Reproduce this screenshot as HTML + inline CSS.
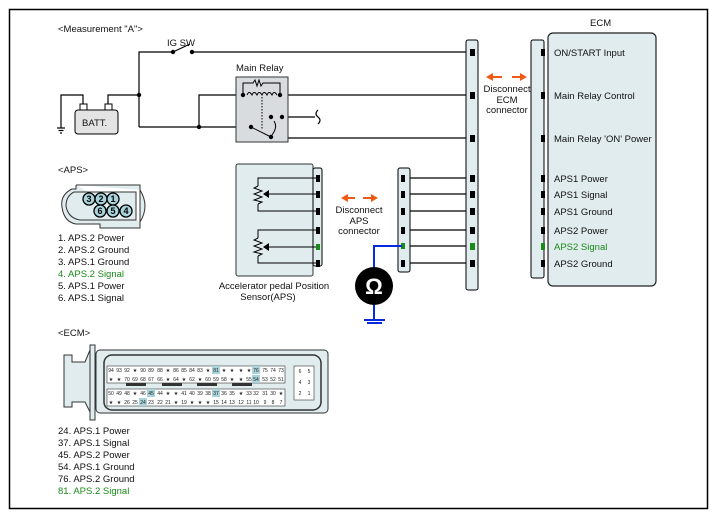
<!DOCTYPE html>
<html><head><meta charset="utf-8"><style>
html,body{margin:0;padding:0;background:#fff;}
svg{display:block;font-family:"Liberation Sans",Arial,sans-serif;}
.t{font-size:9.5px;fill:#111;}
.g{fill:#1a8a1a;}
.p{font-size:5px;fill:#222;text-anchor:middle;}
</style></head><body>
<svg width="717" height="518" viewBox="0 0 717 518" xmlns="http://www.w3.org/2000/svg">
<rect x="9.5" y="9.5" width="698" height="499" fill="#fff" stroke="#000" stroke-width="1.5"/>
<text class="t" x="58" y="32">&lt;Measurement "A"&gt;</text>
<text class="t" x="167" y="46">IG SW</text>
<text class="t" x="236" y="71">Main Relay</text>

<!-- wires -->
<g stroke="#000" stroke-width="1.2" fill="none">
<polyline points="139,127 139,52 173,52"/>
<line x1="173" y1="52" x2="190" y2="44"/>
<line x1="192" y1="52" x2="472" y2="52"/>
<polyline points="108,105 108,95 139,95"/>
<polyline points="83,105 83,95 61,95 61,128"/>
<line x1="57" y1="128" x2="65" y2="128"/><line x1="58.5" y1="130.5" x2="63.5" y2="130.5"/><line x1="60" y1="133" x2="62" y2="133"/>
<polyline points="139,127 251,127"/>
<polyline points="199,127 199,95 243,95"/>
<line x1="280" y1="95" x2="472" y2="95"/>
<polyline points="282,117 282,138 472,138"/>
<line x1="271" y1="117" x2="315" y2="117"/>
<path d="M318,110 q-4,4 0,7 q4,3 0,7"/>
<line x1="403" y1="178" x2="472" y2="178"/>
<line x1="403" y1="194" x2="472" y2="194"/>
<line x1="403" y1="211" x2="472" y2="211"/>
<line x1="403" y1="230" x2="472" y2="230"/>
<line x1="410" y1="246" x2="472" y2="246"/>
<line x1="403" y1="263" x2="472" y2="263"/>
</g>
<circle cx="173" cy="52" r="2.2"/><circle cx="192" cy="52" r="2.2"/>
<circle cx="139" cy="95" r="2.2"/><circle cx="199" cy="127" r="2.2"/>

<!-- battery -->
<rect x="80" y="104" width="7" height="6" fill="#fff" stroke="#000"/>
<rect x="105" y="104" width="7" height="6" fill="#fff" stroke="#000"/>
<rect x="75" y="110" width="43" height="24" rx="3" fill="#e4e4e4" stroke="#000"/>
<text class="t" x="82" y="126">BATT.</text>

<!-- relay -->
<rect x="236" y="77" width="52" height="65" fill="#d9dcdf" stroke="#333"/>
<g stroke="#000" fill="none" stroke-width="1">
<polyline points="243,95 243,83 253,83 255,80 257,86 259,80 261,86 263,83 280,83 280,95"/>
<path d="M247,95 q2,-5 5,0 q2,-5 5,0 q2,-5 5,0 q2,-5 5,0 q2,-5 5,0 q2,-5 5,0"/>
<line x1="262" y1="97" x2="262" y2="130" stroke-dasharray="1.5,1.5"/>
<line x1="251" y1="127" x2="271" y2="137"/>
<path d="M274,121 q4,6 -2,14"/>
</g>
<circle cx="243" cy="95" r="2.2"/><circle cx="280" cy="95" r="2.2"/>
<circle cx="251" cy="127" r="2.2"/><circle cx="271" cy="137" r="2.2"/>
<circle cx="271" cy="117" r="2.2"/><circle cx="282" cy="117" r="2.2"/>

<!-- ECM side connectors -->
<rect x="466" y="40" width="12" height="250" rx="2" fill="#e1ecee" stroke="#000"/>
<rect x="531" y="40" width="13" height="238" rx="2" fill="#e1ecee" stroke="#000"/>
<rect x="548" y="33" width="108" height="253" rx="5" fill="#e1ecee" stroke="#222" stroke-width="1.2"/>
<text class="t" x="590" y="26">ECM</text>
<g>
<rect x="470" y="49" width="5" height="7"/><rect x="470" y="92" width="5" height="7"/><rect x="470" y="135" width="5" height="7"/>
<rect x="470" y="175" width="5" height="7"/><rect x="470" y="191" width="5" height="7"/><rect x="470" y="208" width="5" height="7"/>
<rect x="470" y="227" width="5" height="7"/><rect x="470" y="243" width="5" height="7" fill="#1a8a1a"/><rect x="470" y="260" width="5" height="7"/>
<rect x="541" y="49" width="4" height="7"/><rect x="541" y="92" width="4" height="7"/><rect x="541" y="135" width="4" height="7"/>
<rect x="541" y="175" width="4" height="7"/><rect x="541" y="191" width="4" height="7"/><rect x="541" y="208" width="4" height="7"/>
<rect x="541" y="227" width="4" height="7"/><rect x="541" y="243" width="4" height="7" fill="#1a8a1a"/><rect x="541" y="260" width="4" height="7"/>
</g>
<g class="t">
<text x="554" y="56">ON/START Input</text>
<text x="554" y="99">Main Relay Control</text>
<text x="554" y="142">Main Relay 'ON' Power</text>
<text x="554" y="182">APS1 Power</text>
<text x="554" y="198">APS1 Signal</text>
<text x="554" y="215">APS1 Ground</text>
<text x="554" y="234">APS2 Power</text>
<text x="554" y="250" class="t g">APS2 Signal</text>
<text x="554" y="267">APS2 Ground</text>
</g>
<g stroke="#f05a14" stroke-width="2" fill="#f05a14">
<line x1="491" y1="77" x2="502" y2="77"/><polygon points="486,77 493,73 493,81" stroke="none"/>
<line x1="512" y1="77" x2="522" y2="77"/><polygon points="527,77 520,73 520,81" stroke="none"/>
</g>
<g class="t" text-anchor="middle"><text x="507" y="92">Disconnect</text><text x="507" y="103">ECM</text><text x="507" y="113">connector</text></g>

<!-- APS sensor -->
<rect x="236" y="164" width="77" height="112" rx="2" fill="#e1ecee" stroke="#333"/>
<rect x="313" y="168" width="9" height="98" rx="2" fill="#e1ecee" stroke="#000"/>
<g stroke="#000" fill="none" stroke-width="1">
<polyline points="316,178 258,178 258,186"/><polyline points="258,204 258,211 316,211"/>
<polyline points="258,186 254,188 262,191 254,194 262,197 254,200 262,202 258,204"/>
<line x1="316" y1="194" x2="266" y2="194"/>
<polyline points="316,230 258,230 258,238"/><polyline points="258,256 258,263 316,263"/>
<polyline points="258,238 254,240 262,243 254,246 262,249 254,252 262,254 258,256"/>
<line x1="316" y1="247" x2="266" y2="247"/>
</g>
<polygon points="263,194 269,190 269,198"/><polygon points="263,247 269,243 269,251"/>
<g>
<rect x="316" y="175" width="4" height="7"/><rect x="316" y="191" width="4" height="7"/><rect x="316" y="208" width="4" height="7"/>
<rect x="316" y="227" width="4" height="7"/><rect x="316" y="244" width="4" height="6" fill="#1a8a1a"/><rect x="316" y="260" width="4" height="7"/>
</g>
<g class="t" text-anchor="middle"><text x="274" y="289">Accelerator pedal Position</text><text x="268" y="300">Sensor(APS)</text></g>

<!-- middle connector -->
<rect x="398" y="168" width="12" height="104" rx="2" fill="#e1ecee" stroke="#000"/>
<g>
<rect x="401" y="175" width="4" height="7"/><rect x="401" y="191" width="4" height="7"/><rect x="401" y="208" width="4" height="7"/>
<rect x="401" y="227" width="4" height="7"/><rect x="401" y="243" width="4" height="6" fill="#1a8a1a"/><rect x="401" y="260" width="4" height="7"/>
</g>
<g stroke="#f05a14" stroke-width="2" fill="#f05a14">
<line x1="346" y1="198" x2="355" y2="198"/><polygon points="341,198 348,194 348,202" stroke="none"/>
<line x1="363" y1="198" x2="373" y2="198"/><polygon points="378,198 371,194 371,202" stroke="none"/>
</g>
<g class="t" text-anchor="middle"><text x="359" y="213">Disconnect</text><text x="359" y="224">APS</text><text x="359" y="234">connector</text></g>

<!-- ohmmeter -->
<g stroke="#0a28dc" stroke-width="2" fill="none">
<polyline points="402,246 374,246 374,268"/><line x1="374" y1="304" x2="374" y2="320"/>
<line x1="364" y1="320" x2="385" y2="320"/><line x1="367" y1="323" x2="382" y2="323"/>
</g>
<circle cx="374" cy="286" r="19" fill="#000"/>
<text x="374" y="294" text-anchor="middle" font-size="22" font-weight="bold" fill="#fff">Ω</text>

<!-- APS connector -->
<text class="t" x="58" y="173">&lt;APS&gt;</text>
<path d="M76,185 H140 V222 Q150,206 140,190 M76,185 V189 H72 Q60,195 62,207 Q64,222 76,224 H100 V228 H140 V222" fill="#e1ecee" stroke="#333"/>
<path d="M74,192 H136 V220 H80 Q68,218 66,206 Q66,196 74,192Z" fill="#e1ecee" stroke="#333"/>
<g fill="#a9d4dc" stroke="#000" stroke-width="1.3">
<circle cx="89" cy="199" r="6"/><circle cx="101" cy="199" r="6"/><circle cx="113" cy="199" r="6"/>
<circle cx="100" cy="211" r="6"/><circle cx="113" cy="211" r="6"/><circle cx="126" cy="211" r="6"/>
</g>
<g font-size="9" font-weight="bold" text-anchor="middle">
<text x="89" y="202">3</text><text x="101" y="202">2</text><text x="113" y="202">1</text>
<text x="100" y="214">6</text><text x="113" y="214">5</text><text x="126" y="214">4</text>
</g>
<g class="t">
<text x="58" y="241">1. APS.2 Power</text><text x="58" y="253">2. APS.2 Ground</text><text x="58" y="265">3. APS.1 Ground</text>
<text x="58" y="277" class="t g">4. APS.2 Signal</text><text x="58" y="289">5. APS.1 Power</text><text x="58" y="301">6. APS.1 Signal</text>
</g>

<!-- ECM connector -->
<text class="t" x="58" y="336">&lt;ECM&gt;</text>
<path d="M64,355 H72 V362 H85 L90,350 V412 L85,402 H72 V407 H64Z" fill="#e1ecee" stroke="#333"/>
<rect x="90" y="345" width="5" height="75" fill="#e1ecee" stroke="#333"/>
<rect x="96" y="350" width="232" height="63" rx="4" fill="#e1ecee" stroke="#333"/>
<rect x="104" y="355" width="217" height="55" rx="8" fill="none" stroke="#333" stroke-width="1.5"/>
<rect x="107" y="366" width="178" height="17" fill="#fff" stroke="#333" stroke-width=".6"/>
<rect x="107" y="389" width="178" height="17" fill="#fff" stroke="#333" stroke-width=".6"/>
<g fill="#a9d4dc"><rect x="212" y="366" width="8" height="8"/><rect x="252" y="366" width="8" height="8"/><rect x="252" y="375" width="8" height="8"/><rect x="147" y="389" width="8" height="8"/><rect x="212" y="389" width="8" height="8"/><rect x="139" y="398" width="8" height="8"/></g>
<g fill="#333"><rect x="126" y="383" width="20" height="3"/><rect x="162" y="383" width="20" height="3"/><rect x="197" y="383" width="20" height="3"/><rect x="232" y="383" width="20" height="3"/></g>
<rect x="294" y="366" width="20" height="34" fill="#fff" stroke="#333" stroke-width=".6"/>
<g class="p">
<text x="300" y="373">6</text><text x="309" y="373">5</text><text x="300" y="384">4</text><text x="309" y="384">3</text><text x="300" y="395">2</text><text x="309" y="395">1</text>
</g>
<g class="p">
<text y="372"><tspan x="111">94</tspan><tspan x="119">93</tspan><tspan x="127">92</tspan><tspan x="135">★</tspan><tspan x="143">90</tspan><tspan x="151">89</tspan><tspan x="160">88</tspan><tspan x="168">★</tspan><tspan x="176">86</tspan><tspan x="184">85</tspan><tspan x="192">84</tspan><tspan x="200">83</tspan><tspan x="208">★</tspan><tspan x="216">81</tspan><tspan x="224">★</tspan><tspan x="232">★</tspan><tspan x="241">★</tspan><tspan x="249">★</tspan><tspan x="256">76</tspan><tspan x="265">75</tspan><tspan x="273">74</tspan><tspan x="281">73</tspan></text>
<text y="381"><tspan x="111">★</tspan><tspan x="119">★</tspan><tspan x="127">70</tspan><tspan x="135">69</tspan><tspan x="143">68</tspan><tspan x="151">67</tspan><tspan x="160">66</tspan><tspan x="168">★</tspan><tspan x="176">64</tspan><tspan x="184">★</tspan><tspan x="192">62</tspan><tspan x="200">★</tspan><tspan x="208">60</tspan><tspan x="216">59</tspan><tspan x="224">58</tspan><tspan x="232">★</tspan><tspan x="241">★</tspan><tspan x="249">55</tspan><tspan x="256">54</tspan><tspan x="265">53</tspan><tspan x="273">52</tspan><tspan x="281">51</tspan></text>
<text y="395"><tspan x="111">50</tspan><tspan x="119">49</tspan><tspan x="127">48</tspan><tspan x="135">★</tspan><tspan x="143">46</tspan><tspan x="151">45</tspan><tspan x="160">44</tspan><tspan x="168">★</tspan><tspan x="176">★</tspan><tspan x="184">41</tspan><tspan x="192">40</tspan><tspan x="200">39</tspan><tspan x="208">38</tspan><tspan x="216">37</tspan><tspan x="224">36</tspan><tspan x="232">35</tspan><tspan x="241">★</tspan><tspan x="249">33</tspan><tspan x="256">32</tspan><tspan x="265">31</tspan><tspan x="273">30</tspan><tspan x="281">★</tspan></text>
<text y="404"><tspan x="111">★</tspan><tspan x="119">★</tspan><tspan x="127">26</tspan><tspan x="135">25</tspan><tspan x="143">24</tspan><tspan x="151">23</tspan><tspan x="160">22</tspan><tspan x="168">21</tspan><tspan x="176">★</tspan><tspan x="184">19</tspan><tspan x="192">★</tspan><tspan x="200">★</tspan><tspan x="208">★</tspan><tspan x="216">15</tspan><tspan x="224">14</tspan><tspan x="232">13</tspan><tspan x="241">12</tspan><tspan x="249">11</tspan><tspan x="256">10</tspan><tspan x="265">9</tspan><tspan x="273">8</tspan><tspan x="281">7</tspan></text>
</g>
<g class="t">
<text x="58" y="434">24. APS.1 Power</text><text x="58" y="446">37. APS.1 Signal</text><text x="58" y="458">45. APS.2 Power</text>
<text x="58" y="470">54. APS.1 Ground</text><text x="58" y="482">76. APS.2 Ground</text><text x="58" y="494" class="t g">81. APS.2 Signal</text>
</g>
</svg>
</body></html>
